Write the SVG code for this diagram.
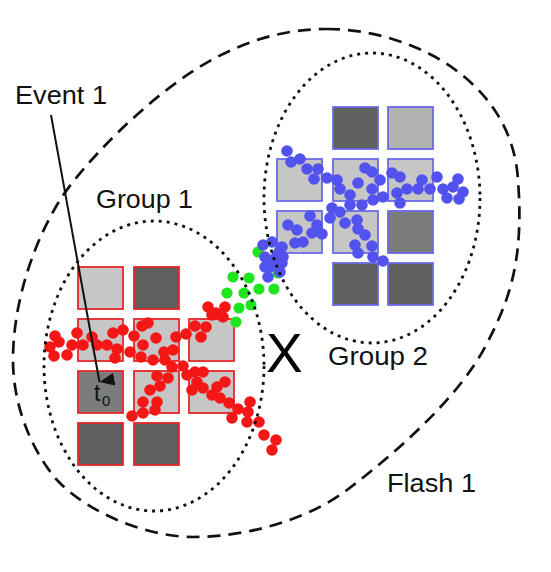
<svg xmlns="http://www.w3.org/2000/svg" width="551" height="572" viewBox="0 0 551 572">
<style>
.flash{fill:none;stroke:#111;stroke-width:2.7;stroke-dasharray:13 8}
.grp{fill:none;stroke:#111;stroke-width:2.8;stroke-dasharray:3 5}
.sq-r{stroke:#e8262a;stroke-width:1.8}
.sq-b{stroke:#6a6ae6;stroke-width:1.8}
.light{fill:#c6c6c6}
.lightb{fill:#b2b2b2}
.mid{fill:#7c7c7c}
.dark{fill:#5f5f5f}
.r circle{fill:#f51616}
.g circle{fill:#1ee61e}
.b circle{fill:#5252ee}
.lbl{font-family:"Liberation Sans",Arial,sans-serif;font-size:25px;fill:#111}
</style>
<defs>
<marker id="arr" markerWidth="13" markerHeight="15" refX="6.5" refY="15" orient="auto-start-reverse" markerUnits="userSpaceOnUse" viewBox="0 0 13 15">
<path d="M0,0 L13,0 L6.5,15 Z" fill="#111"/>
</marker>
</defs>
<rect width="551" height="572" fill="#fff"/>

<g id="flash1">
<path class="flash" d="M327,29 C410,29 512,80 518,180 C524,260 510,300 485,347 C460,395 400,450 347,490 C310,518 250,537 193,537 C150,537 90,515 57,480 C35,455 13,410 13,360 C13,300 35,240 60,200 C80,168 150,92 217,57 C250,40 285,29 327,29 Z"/>
</g>

<g id="group1-squares">
<rect class="sq-r light" x="78" y="267" width="45" height="42"/>
<rect class="sq-r dark" x="134" y="267" width="45" height="42"/>
<rect class="sq-r light" x="78" y="319" width="45" height="42"/>
<rect class="sq-r light" x="134" y="319" width="45" height="42"/>
<rect class="sq-r light" x="189" y="319" width="45" height="42"/>
<rect class="sq-r mid" x="78" y="371" width="45" height="42"/>
<rect class="sq-r light" x="134" y="371" width="45" height="42"/>
<rect class="sq-r light" x="189" y="371" width="45" height="42"/>
<rect class="sq-r dark" x="78" y="423" width="45" height="42"/>
<rect class="sq-r dark" x="134" y="423" width="45" height="42"/>
</g>

<g id="group2-squares">
<rect class="sq-b dark" x="333" y="107" width="45" height="42"/>
<rect class="sq-b lightb" x="388" y="107" width="45" height="42"/>
<rect class="sq-b light" x="277" y="159" width="45" height="42"/>
<rect class="sq-b light" x="333" y="159" width="45" height="42"/>
<rect class="sq-b light" x="388" y="159" width="45" height="42"/>
<rect class="sq-b light" x="277" y="211" width="45" height="42"/>
<rect class="sq-b light" x="333" y="211" width="45" height="42"/>
<rect class="sq-b mid" x="388" y="211" width="45" height="42"/>
<rect class="sq-b dark" x="333" y="263" width="45" height="42"/>
<rect class="sq-b dark" x="388" y="263" width="45" height="42"/>
</g>

<g id="red-dots" class="r">
<circle cx="208" cy="307" r="5.8"/><circle cx="216" cy="313" r="5.8"/><circle cx="225" cy="307" r="5.8"/><circle cx="223" cy="317" r="5.8"/><circle cx="212" cy="315" r="5.8"/>
<circle cx="195" cy="326" r="5.8"/><circle cx="206" cy="327" r="5.8"/><circle cx="201" cy="337" r="5.8"/>
<circle cx="55" cy="336" r="5.8"/><circle cx="50" cy="347" r="5.8"/><circle cx="54" cy="356" r="5.8"/><circle cx="59" cy="342" r="5.8"/><circle cx="67" cy="355" r="5.8"/><circle cx="72" cy="345" r="5.8"/><circle cx="77" cy="333" r="5.8"/><circle cx="83" cy="345" r="5.8"/><circle cx="92" cy="337" r="5.8"/><circle cx="97" cy="345" r="5.8"/><circle cx="107" cy="345" r="5.8"/><circle cx="113" cy="333" r="5.8"/><circle cx="123" cy="330" r="5.8"/><circle cx="117" cy="349" r="5.8"/><circle cx="115" cy="358" r="5.8"/><circle cx="130" cy="352" r="5.8"/><circle cx="134" cy="336" r="5.8"/><circle cx="142" cy="326" r="5.8"/><circle cx="148" cy="323" r="5.8"/><circle cx="143" cy="345" r="5.8"/><circle cx="141" cy="357" r="5.8"/><circle cx="153" cy="360" r="5.8"/><circle cx="156" cy="338" r="5.8"/><circle cx="164" cy="352" r="5.8"/><circle cx="165" cy="360" r="5.8"/><circle cx="173" cy="350" r="5.8"/><circle cx="176" cy="337" r="5.8"/><circle cx="186" cy="334" r="5.8"/>
<circle cx="172" cy="367" r="5.8"/><circle cx="183" cy="366" r="5.8"/><circle cx="187" cy="375" r="5.8"/><circle cx="168" cy="378" r="5.8"/><circle cx="157" cy="376" r="5.8"/><circle cx="160" cy="386" r="5.8"/><circle cx="150" cy="390" r="5.8"/><circle cx="143" cy="402" r="5.8"/><circle cx="157" cy="402" r="5.8"/><circle cx="155" cy="410" r="5.8"/><circle cx="143" cy="413" r="5.8"/><circle cx="132" cy="416" r="5.8"/>
<circle cx="195" cy="372" r="5.8"/><circle cx="203" cy="372" r="5.8"/><circle cx="197" cy="382" r="5.8"/><circle cx="192" cy="390" r="5.8"/><circle cx="203" cy="388" r="5.8"/><circle cx="212" cy="395" r="5.8"/><circle cx="217" cy="387" r="5.8"/><circle cx="225" cy="382" r="5.8"/><circle cx="220" cy="398" r="5.8"/><circle cx="229" cy="403" r="5.8"/><circle cx="238" cy="409" r="5.8"/><circle cx="232" cy="418" r="5.8"/><circle cx="247" cy="422" r="5.8"/><circle cx="250" cy="402" r="5.8"/><circle cx="248" cy="412" r="5.8"/><circle cx="259" cy="422" r="5.8"/><circle cx="264" cy="435" r="5.8"/><circle cx="276" cy="440" r="5.8"/><circle cx="272" cy="450" r="5.8"/>
</g>

<g id="green-dots" class="g">
<circle cx="258" cy="252" r="5.6"/><circle cx="278" cy="273" r="5.6"/><circle cx="233" cy="277" r="5.6"/><circle cx="249" cy="278" r="5.6"/><circle cx="227" cy="293" r="5.6"/><circle cx="244" cy="293" r="5.6"/><circle cx="259" cy="289" r="5.6"/><circle cx="274" cy="289" r="5.6"/><circle cx="239" cy="308" r="5.6"/><circle cx="251" cy="305" r="5.6"/><circle cx="236" cy="322" r="5.6"/>
</g>

<g id="blue-dots" class="b">
<circle cx="287" cy="151" r="5.8"/><circle cx="291" cy="162" r="5.8"/><circle cx="300" cy="159" r="5.8"/><circle cx="307" cy="169" r="5.8"/><circle cx="318" cy="169" r="5.8"/><circle cx="314" cy="179" r="5.8"/><circle cx="327" cy="178" r="5.8"/><circle cx="337" cy="180" r="5.8"/><circle cx="340" cy="189" r="5.8"/><circle cx="350" cy="195" r="5.8"/><circle cx="358" cy="183" r="5.8"/><circle cx="365" cy="168" r="5.8"/><circle cx="372" cy="172" r="5.8"/><circle cx="372" cy="189" r="5.8"/><circle cx="380" cy="180" r="5.8"/><circle cx="373" cy="200" r="5.8"/><circle cx="362" cy="205" r="5.8"/><circle cx="350" cy="205" r="5.8"/><circle cx="383" cy="197" r="5.8"/><circle cx="392" cy="173" r="5.8"/><circle cx="400" cy="177" r="5.8"/><circle cx="397" cy="193" r="5.8"/><circle cx="400" cy="203" r="5.8"/><circle cx="407" cy="189" r="5.8"/><circle cx="418" cy="189" r="5.8"/><circle cx="422" cy="180" r="5.8"/><circle cx="430" cy="189" r="5.8"/><circle cx="437" cy="177" r="5.8"/><circle cx="443" cy="189" r="5.8"/><circle cx="447" cy="198" r="5.8"/><circle cx="453" cy="187" r="5.8"/><circle cx="458" cy="179" r="5.8"/><circle cx="463" cy="192" r="5.8"/><circle cx="459" cy="199" r="5.8"/>
<circle cx="332" cy="208" r="5.8"/><circle cx="330" cy="218" r="5.8"/><circle cx="340" cy="212" r="5.8"/><circle cx="345" cy="223" r="5.8"/><circle cx="357" cy="220" r="5.8"/><circle cx="358" cy="229" r="5.8"/><circle cx="365" cy="235" r="5.8"/><circle cx="355" cy="245" r="5.8"/><circle cx="358" cy="253" r="5.8"/><circle cx="372" cy="246" r="5.8"/><circle cx="373" cy="257" r="5.8"/><circle cx="383" cy="261" r="5.8"/>
<circle cx="310" cy="216" r="5.8"/><circle cx="317" cy="225" r="5.8"/><circle cx="322" cy="234" r="5.8"/><circle cx="312" cy="233" r="5.8"/><circle cx="303" cy="242" r="5.8"/><circle cx="295" cy="243" r="5.8"/><circle cx="288" cy="225" r="5.8"/><circle cx="297" cy="230" r="5.8"/><circle cx="282" cy="247" r="5.8"/><circle cx="277" cy="255" r="5.8"/><circle cx="282" cy="263" r="5.8"/><circle cx="270" cy="267" r="5.8"/><circle cx="263" cy="245" r="5.8"/><circle cx="265" cy="257" r="5.8"/><circle cx="268" cy="277" r="5.8"/><circle cx="272" cy="242" r="5.8"/><circle cx="280" cy="250" r="5.8"/><circle cx="283" cy="257" r="5.8"/><circle cx="277" cy="262" r="5.8"/><circle cx="265" cy="267" r="5.8"/><circle cx="280" cy="272" r="5.8"/><circle cx="273" cy="260" r="5.8"/>
</g>

<g id="group1">
<ellipse class="grp" cx="154" cy="366" rx="110" ry="145"/>
<text class="lbl" x="96" y="208" textLength="97" lengthAdjust="spacingAndGlyphs">Group 1</text>
</g>
<g id="group2">
<ellipse class="grp" cx="372" cy="198" rx="108" ry="145"/>
<text class="lbl" x="328" y="365" textLength="100" lengthAdjust="spacingAndGlyphs">Group 2</text>
</g>

<g id="connectors">
<line x1="51" y1="115" x2="99.5" y2="382" stroke="#111" stroke-width="2" marker-end="url(#arr)"/>
</g>

<g id="event1">
<text class="lbl" x="15" y="104" textLength="92" lengthAdjust="spacingAndGlyphs">Event 1</text>
</g>
<g id="t0">
<text x="94" y="401" font-family="Liberation Sans, Arial, sans-serif" font-size="23" fill="#111">t</text>
<text x="102" y="406" font-family="Liberation Sans, Arial, sans-serif" font-size="15" fill="#111">0</text>
</g>
<g id="x-mark">
<text x="266" y="372" font-family="Liberation Sans, Arial, sans-serif" font-size="55" fill="#000">X</text>
</g>
<g id="flash-label">
<text class="lbl" x="387" y="492" textLength="89" lengthAdjust="spacingAndGlyphs">Flash 1</text>
</g>
</svg>
